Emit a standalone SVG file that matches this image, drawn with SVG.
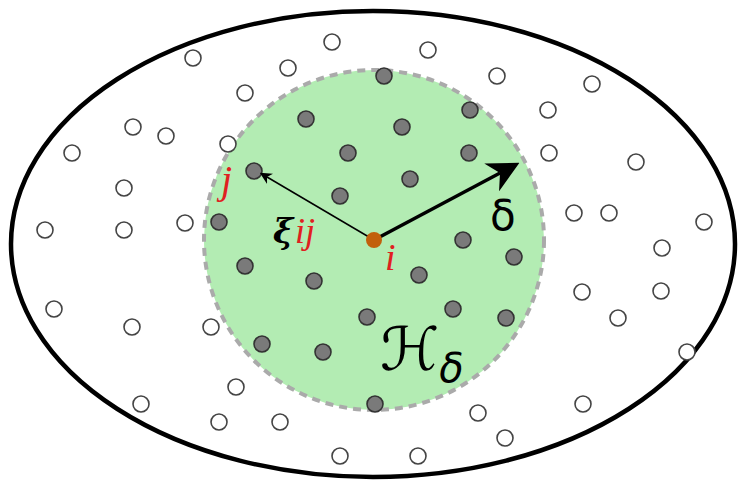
<svg xmlns="http://www.w3.org/2000/svg" width="740" height="480" viewBox="0 0 740 480">
<style>
.o{fill:#fff;stroke:#444;stroke-width:1.6}
.d{fill:#7a7a7a;stroke:#333;stroke-width:1.6}
.r{fill:#e02020;font-family:"Liberation Serif",serif;font-style:italic}
</style>
<defs>
<marker id="ah" viewBox="0 0 10 10" refX="3" refY="5" markerWidth="8" markerHeight="8" orient="auto" markerUnits="strokeWidth">
<path d="M0,0 L10,5 L0,10 L3,5 z" fill="#000"/>
</marker>
<marker id="ahb" viewBox="0 0 10 10" refX="3" refY="5" markerWidth="9" markerHeight="9" orient="auto" markerUnits="strokeWidth">
<path d="M0,0 L10,5 L0,10 L3,5 z" fill="#000"/>
</marker>
</defs>
<rect width="740" height="480" fill="#fff"/>
<g id="domain"><ellipse cx="373" cy="244" rx="362" ry="233" fill="#fff" stroke="#000" stroke-width="4.5"/></g>
<g id="horizon"><circle cx="374" cy="240" r="170" fill="#b3ecb3" stroke="#aaa" stroke-width="4" stroke-dasharray="8 6"/></g>
<g id="outside">
<circle class="o" cx="332" cy="42" r="8"/><circle class="o" cx="193" cy="58" r="8"/><circle class="o" cx="288" cy="68" r="8"/><circle class="o" cx="245" cy="93" r="8"/><circle class="o" cx="133" cy="127" r="8"/><circle class="o" cx="166" cy="136" r="8"/><circle class="o" cx="228" cy="144" r="8"/><circle class="o" cx="72" cy="153" r="8"/><circle class="o" cx="124" cy="188" r="8"/><circle class="o" cx="185" cy="223" r="8"/><circle class="o" cx="45" cy="230" r="8"/><circle class="o" cx="124" cy="230" r="8"/>
<circle class="o" cx="428" cy="50" r="8"/><circle class="o" cx="497" cy="76" r="8"/><circle class="o" cx="592" cy="84" r="8"/><circle class="o" cx="548" cy="110" r="8"/><circle class="o" cx="549" cy="153" r="8"/><circle class="o" cx="636" cy="162" r="8"/><circle class="o" cx="574" cy="213" r="8"/><circle class="o" cx="609" cy="213" r="8"/><circle class="o" cx="704" cy="222" r="8"/>
<circle class="o" cx="54" cy="309" r="8"/><circle class="o" cx="132" cy="327" r="8"/><circle class="o" cx="211" cy="327" r="8"/><circle class="o" cx="236" cy="387" r="8"/><circle class="o" cx="141" cy="404" r="8"/><circle class="o" cx="219" cy="422" r="8"/><circle class="o" cx="280" cy="422" r="8"/><circle class="o" cx="340" cy="456" r="8"/>
<circle class="o" cx="662" cy="248" r="8"/><circle class="o" cx="582" cy="292" r="8"/><circle class="o" cx="661" cy="291" r="8"/><circle class="o" cx="618" cy="318" r="8"/><circle class="o" cx="687" cy="352" r="8"/><circle class="o" cx="583" cy="404" r="8"/><circle class="o" cx="478" cy="413" r="8"/><circle class="o" cx="505" cy="438" r="8"/><circle class="o" cx="418" cy="456" r="8"/>
</g>
<g id="inside">
<circle class="d" cx="384" cy="76" r="8"/><circle class="d" cx="306" cy="119" r="8"/><circle class="d" cx="402" cy="127" r="8"/><circle class="d" cx="470" cy="110" r="8"/><circle class="d" cx="348" cy="153" r="8"/><circle class="d" cx="469" cy="153" r="8"/><circle class="d" cx="410" cy="179" r="8"/><circle class="d" cx="340" cy="196" r="8"/><circle class="d" cx="219" cy="222" r="8"/><circle class="d" cx="463" cy="240" r="8"/><circle class="d" cx="514" cy="257" r="8"/><circle class="d" cx="245" cy="266" r="8"/><circle class="d" cx="314" cy="281" r="8"/><circle class="d" cx="419" cy="275" r="8"/><circle class="d" cx="453" cy="309" r="8"/><circle class="d" cx="506" cy="318" r="8"/><circle class="d" cx="367" cy="317" r="8"/><circle class="d" cx="262" cy="344" r="8"/><circle class="d" cx="323" cy="352" r="8"/><circle class="d" cx="375" cy="404" r="8"/>
</g>
<g id="node-j"><circle class="d" cx="254" cy="171" r="8"/><text class="r" x="221" y="193" font-size="40">j</text></g>
<g id="connectors">
<line x1="374" y1="240" x2="267" y2="177" stroke="#000" stroke-width="1.5" marker-end="url(#ah)"/>
<line x1="374" y1="240" x2="500" y2="173" stroke="#000" stroke-width="3.5" marker-end="url(#ahb)"/>
</g>
<g id="node-i"><circle cx="374" cy="240" r="8" fill="#c2600c"/><text class="r" x="385" y="270" font-size="38">i</text></g>
<g id="labels">
<text x="273" y="243" font-family="DejaVu Serif,serif" font-style="italic" font-weight="bold" font-size="34" fill="#000">ξ</text>
<text class="r" x="295" y="243" font-size="36">ij</text>
<text x="490" y="230" font-family="DejaVu Sans,sans-serif" font-size="42" fill="#000">δ</text>
<text x="380" y="370" font-family="DejaVu Sans,sans-serif" font-size="60" fill="#000">ℋ<tspan font-family="DejaVu Sans,sans-serif" font-style="italic" font-size="40" dy="12">δ</tspan></text>
</g>
</svg>
